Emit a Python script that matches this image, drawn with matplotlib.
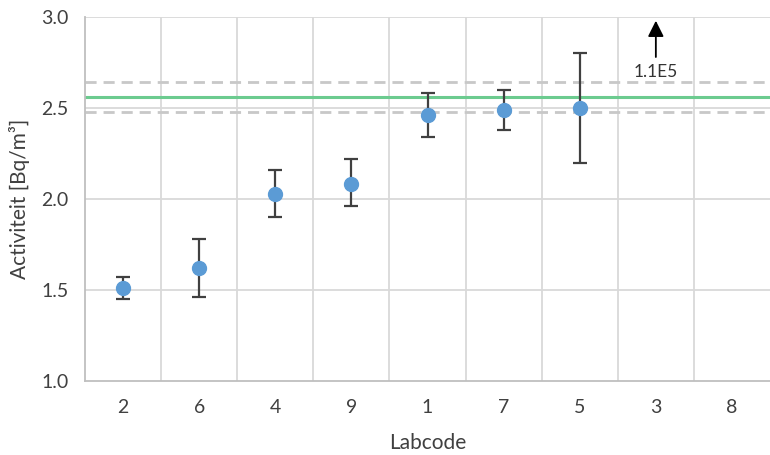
import matplotlib
matplotlib.use("Agg")
import matplotlib.pyplot as plt
import numpy as np

labcodes = ["2", "6", "4", "9", "1", "7", "5", "3", "8"]
values = [1.51, 1.62, 2.03, 2.085, 2.46, 2.49, 2.50, np.nan, np.nan]
err_low = [0.06, 0.16, 0.13, 0.125, 0.12, 0.11, 0.30, np.nan, np.nan]
err_high = [0.06, 0.16, 0.13, 0.135, 0.12, 0.11, 0.30, np.nan, np.nan]
ref_value = 2.56
ref_low = 2.478
ref_high = 2.642
offscale_code = "3"
offscale_label = "1.1E5"

plt.rcParams['font.family'] = ['Lato', 'DejaVu Sans']

fig = plt.figure(figsize=(7.7, 4.55), dpi=100)
ax = fig.add_axes([0.1105, 0.1626, 0.8895, 0.8])

x = np.arange(len(labcodes))
ax.set_xlim(-0.5, len(labcodes) - 0.5)
ax.set_ylim(1.0, 3.0)

grid_c = "#D9D9D9"
for b in np.arange(0.5, len(labcodes) - 0.5, 1):
    ax.axvline(b, color=grid_c, lw=1.3, zorder=0)
for yv in [1.5, 2.0, 2.5, 3.0]:
    ax.axhline(yv, color=grid_c, lw=1.3, zorder=0)

ax.axhline(ref_value, color="#6CCB8F", lw=2.2, zorder=2)
for yv in [ref_low, ref_high]:
    ax.axhline(yv, color="#C8C8C8", lw=2, ls=(0, (4, 2.5)), zorder=2)

ax.errorbar(x, values, yerr=[err_low, err_high], fmt="o", color="#5B9BD5",
            ms=10, ecolor="#404040", elinewidth=1.6, capsize=5, capthick=1.6,
            zorder=4)

xi = labcodes.index(offscale_code)
ax.annotate("", xy=(xi, 2.995), xytext=(xi, 2.765),
            arrowprops=dict(arrowstyle="-|>", color="black", lw=1.3,
                            mutation_scale=24), zorder=5)
ax.text(xi, 2.70, offscale_label, ha="center", va="center", fontsize=12.5,
        color="#333333")

ax.set_xticks(x)
ax.set_xticklabels(labcodes)
ax.set_yticks([1.0, 1.5, 2.0, 2.5, 3.0])
ax.set_yticklabels(["1.0", "1.5", "2.0", "2.5", "3.0"])
ax.tick_params(axis="x", length=0, labelsize=14, colors="#404040", pad=13)
ax.tick_params(axis="y", length=0, labelsize=14, colors="#404040", pad=12)
ax.set_xlabel("Labcode", fontsize=15, color="#404040", labelpad=12)
ax.set_ylabel("Activiteit [Bq/m³]", fontsize=15, color="#404040", labelpad=8)

for s in ["top", "right"]:
    ax.spines[s].set_visible(False)
for s in ["left", "bottom"]:
    ax.spines[s].set_color("#BFBFBF")
    ax.spines[s].set_linewidth(1.3)

fig.savefig("out.png", dpi=100)
